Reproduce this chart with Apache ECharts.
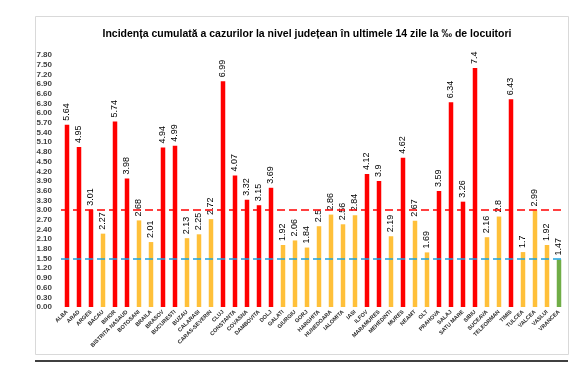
<!DOCTYPE html>
<html><head><meta charset="utf-8">
<script src="https://cdn.jsdelivr.net/npm/echarts@6/dist/echarts.min.js"></script>
<style>html,body{margin:0;padding:0;background:#fff}#c{width:576px;height:383px}</style>
</head><body><div id="c"></div>
<script>
const titleText = 'Incidența cumulată a cazurilor la nivel județean în ultimele 14 zile la ‰ de locuitori';
const counties = ['ALBA','ARAD','ARGES','BACAU','BIHOR','BISTRITA NASAUD','BOTOSANI','BRAILA','BRASOV','BUCURESTI','BUZAU','CALARASI','CARAS-SEVERIN','CLUJ','CONSTANTA','COVASNA','DAMBOVITA','DOLJ','GALATI','GIURGIU','GORJ','HARGHITA','HUNEDOARA','IALOMITA','IASI','ILFOV','MARAMURES','MEHEDINTI','MURES','NEAMT','OLT','PRAHOVA','SALAJ','SATU MARE','SIBIU','SUCEAVA','TELEORMAN','TIMIS','TULCEA','VALCEA','VASLUI','VRANCEA'];
const incidence = [5.64,4.95,3.01,2.27,5.74,3.98,2.68,2.01,4.94,4.99,2.13,2.25,2.72,6.99,4.07,3.32,3.15,3.69,1.92,2.06,1.84,2.5,2.86,2.56,2.84,4.12,3.9,2.19,4.62,2.67,1.69,3.59,6.34,3.26,7.4,2.16,2.8,6.43,1.7,2.99,1.92,1.47];
const thresholds = [3.0, 1.5];
const yMin = 0, yMax = 7.8, yStep = 0.3;

const RED = '#FF0000', ORANGE = '#FFC03A', GREEN = '#70AD47';
function colorFor(v){ return v > thresholds[0] ? RED : (v >= thresholds[1] ? ORANGE : GREEN); }

const chart = echarts.init(document.getElementById('c'), null, {renderer:'canvas'});
chart.setOption({
  animation:false,
  backgroundColor:'#fff',
  graphic:[
    {type:'rect', shape:{x:35.5,y:16.5,width:533,height:338}, style:{fill:'none',stroke:'#d9d9d9',lineWidth:1}, silent:true, z:-1},
    {type:'line', shape:{x1:35,y1:361,x2:568,y2:361}, style:{stroke:'#000',lineWidth:1.5}, silent:true}
  ],
  title:{text:titleText,left:302,textAlign:'center',top:24,
    textStyle:{fontFamily:'Liberation Sans',fontSize:10.5,fontWeight:'bold',color:'#000'}},
  grid:{left:61,right:11,top:55,bottom:76,containLabel:false},
  xAxis:{type:'category',data:counties,
    axisLine:{show:false},axisTick:{show:false},
    axisLabel:{interval:0,rotate:45,margin:4,fontFamily:'Liberation Sans',fontSize:5.5,fontWeight:'bold',color:'#262626'}},
  yAxis:{type:'value',min:yMin,max:yMax,interval:yStep,
    splitLine:{show:false},axisLine:{show:false},axisTick:{show:false},
    axisLabel:{margin:9,fontFamily:'Liberation Sans',fontSize:8,fontWeight:'bold',color:'#404040',formatter:v=>v.toFixed(2)}},
  series:[{
    type:'bar',barWidth:4.5,
    data:incidence.map(v=>({value:v,itemStyle:{color:colorFor(v)}})),
    label:{show:true,position:'top',rotate:90,align:'left',verticalAlign:'middle',distance:4,
      fontFamily:'Liberation Sans',fontSize:9,color:'#000',formatter:p=>String(p.value)},
    markLine:{symbol:'none',silent:true,label:{show:false},
      data:[
        {yAxis:thresholds[0],lineStyle:{color:'#FF0000',type:[8,4],width:1.5}},
        {yAxis:thresholds[1],lineStyle:{color:'#1CA3E0',type:[8,4],width:1.5}}
      ]}
  }]
});
</script></body></html>
